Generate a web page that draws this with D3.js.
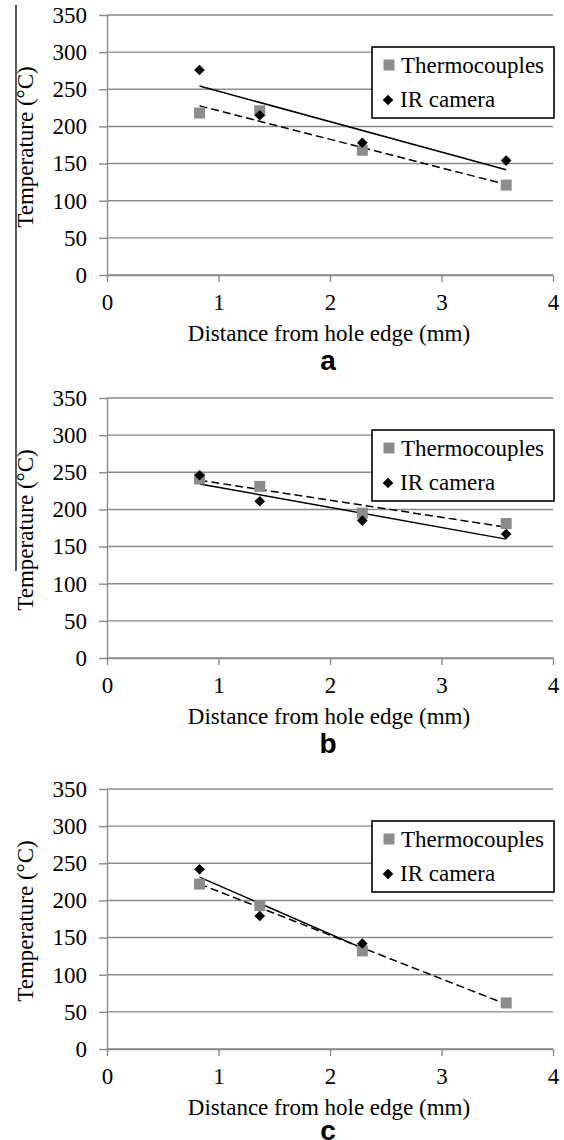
<!DOCTYPE html>
<html>
<head>
<meta charset="utf-8">
<script src="https://cdn.jsdelivr.net/npm/d3@7.9.0/dist/d3.min.js"></script>
<style>
  body { margin: 0; background: #fff; }
  svg { display: block; }
</style>
</head>
<body>
<svg id="chart" width="564" height="1140"></svg>
<script>
// data
const distances = [0.83, 1.37, 2.29, 3.58];
const panelLetters = ["a", "b", "c"];
const thermocouplesA = [218, 221, 168, 121];
const irCameraA = [276, 215, 178, 154];
const thermocouplesB = [241, 231, 195, 181];
const irCameraB = [246, 211, 185, 167];
const thermocouplesC = [222, 193, 132, 62];
const irCameraC = [242, 179, 142];
const xTicks = [0, 1, 2, 3, 4];
const yTicks = [0, 50, 100, 150, 200, 250, 300, 350];
const seriesNames = ["Thermocouples", "IR camera"];

const tcSets = [thermocouplesA, thermocouplesB, thermocouplesC];
const irSets = [irCameraA, irCameraB, irCameraC];

// layout
const panelTops = [15, 398, 789];
const letterOffsets = [95, 95, 91];
const plotH = 260;
const left = 107, right = 553;
const grey = "#8a8a8a";
const tcColor = "#8c8c8c";
const serif = "'Liberation Serif', Tinos, 'Times New Roman', 'DejaVu Serif', serif";

const svg = d3.select("#chart");

// stray frame line on the left of the scan
svg.append("line")
  .attr("x1", 16).attr("x2", 16).attr("y1", 5).attr("y2", 571)
  .attr("stroke", "#000").attr("stroke-width", 1.3);

const x = d3.scaleLinear().domain([0, 4]).range([left, right]);

function fit(xs, ys) {
  // least squares trendline, same as the spreadsheet "linear" trendline
  const pts = ys.map((v, i) => [xs[i], v]);
  const mx = d3.mean(pts, d => d[0]);
  const my = d3.mean(pts, d => d[1]);
  const sxy = d3.sum(pts, d => (d[0] - mx) * (d[1] - my));
  const sxx = d3.sum(pts, d => (d[0] - mx) ** 2);
  const slope = sxy / sxx;
  const x0 = d3.min(pts, d => d[0]), x1 = d3.max(pts, d => d[0]);
  return [[x0, my + slope * (x0 - mx)], [x1, my + slope * (x1 - mx)]];
}

const diamond = d3.symbol().type(d3.symbolDiamond2).size(72);

panelLetters.forEach((letter, p) => {
  const top = panelTops[p];
  const bottom = top + plotH;
  const y = d3.scaleLinear().domain([0, 350]).range([bottom, top]);
  const g = svg.append("g").style("font-family", serif);

  // gridlines
  g.selectAll(".grid").data(yTicks).join("line")
    .attr("x1", left).attr("x2", right)
    .attr("y1", d => y(d)).attr("y2", d => y(d))
    .attr("stroke", grey).attr("stroke-width", 1.4);

  // y axis
  const yAxis = g.append("g").attr("transform", `translate(${left},0)`)
    .call(d3.axisLeft(y).tickValues(yTicks).tickFormat(d3.format("d"))
      .tickSize(8).tickSizeOuter(0).tickPadding(12));
  yAxis.select(".domain").attr("stroke", grey).attr("stroke-width", 1.4);
  yAxis.selectAll(".tick line").attr("stroke", grey).attr("stroke-width", 1.4);
  yAxis.selectAll("text").attr("fill", "#000")
    .style("font-family", serif).style("font-size", "23px");

  // x axis
  const xAxis = g.append("g").attr("transform", `translate(0,${bottom})`)
    .call(d3.axisBottom(x).tickValues(xTicks).tickFormat(d3.format("d"))
      .tickSize(7).tickSizeOuter(0).tickPadding(12));
  xAxis.select(".domain").attr("stroke", grey).attr("stroke-width", 1.4);
  xAxis.selectAll(".tick line").attr("stroke", grey).attr("stroke-width", 1.4);
  xAxis.selectAll("text").attr("fill", "#000")
    .style("font-family", serif).style("font-size", "23px");

  // axis titles
  g.append("text")
    .attr("transform", `translate(25,${top + 132}) rotate(-90)`)
    .attr("text-anchor", "middle").attr("dominant-baseline", "central")
    .style("font-size", "23px")
    .text("Temperature (°C)");

  g.append("text")
    .attr("x", (left + right) / 2 - 1).attr("y", bottom + 66)
    .attr("text-anchor", "middle").style("font-size", "23px")
    .text("Distance from hole edge (mm)");

  g.append("text")
    .attr("x", 328).attr("y", bottom + letterOffsets[p])
    .attr("text-anchor", "middle")
    .style("font-family", "'Liberation Sans', Arimo, Arial, sans-serif")
    .style("font-weight", "bold").style("font-size", "28px")
    .text(letter);

  const tc = tcSets[p], ir = irSets[p];

  // trendlines
  const line = d3.line().x(d => x(d[0])).y(d => y(d[1]));
  g.append("path").attr("d", line(fit(distances, tc)))
    .attr("fill", "none").attr("stroke", "#000").attr("stroke-width", 1.5)
    .attr("stroke-dasharray", "8,4");
  g.append("path").attr("d", line(fit(distances, ir)))
    .attr("fill", "none").attr("stroke", "#000").attr("stroke-width", 1.5);

  // markers
  g.selectAll(".tc").data(tc).join("rect")
    .attr("x", (d, i) => x(distances[i]) - 5.5)
    .attr("y", d => y(d) - 5.5)
    .attr("width", 11).attr("height", 11)
    .attr("fill", tcColor);
  g.selectAll(".ir").data(ir).join("path")
    .attr("transform", (d, i) => `translate(${x(distances[i])},${y(d)})`)
    .attr("d", diamond)
    .attr("fill", "#000");

  // legend
  const lg = g.append("g");
  lg.append("rect")
    .attr("x", 372).attr("y", top + 32).attr("width", 182).attr("height", 71)
    .attr("fill", "#fff").attr("stroke", "#000").attr("stroke-width", 1.6);
  lg.append("rect")
    .attr("x", 383.5).attr("y", top + 44.5).attr("width", 11).attr("height", 11)
    .attr("fill", tcColor);
  lg.append("path")
    .attr("transform", `translate(388,${top + 85})`)
    .attr("d", diamond).attr("fill", "#000");
  lg.append("text").attr("x", 401).attr("y", top + 58)
    .style("font-size", "23px").text(seriesNames[0]);
  lg.append("text").attr("x", 400).attr("y", top + 92)
    .style("font-size", "23px").text(seriesNames[1]);
});
</script>
</body>
</html>
